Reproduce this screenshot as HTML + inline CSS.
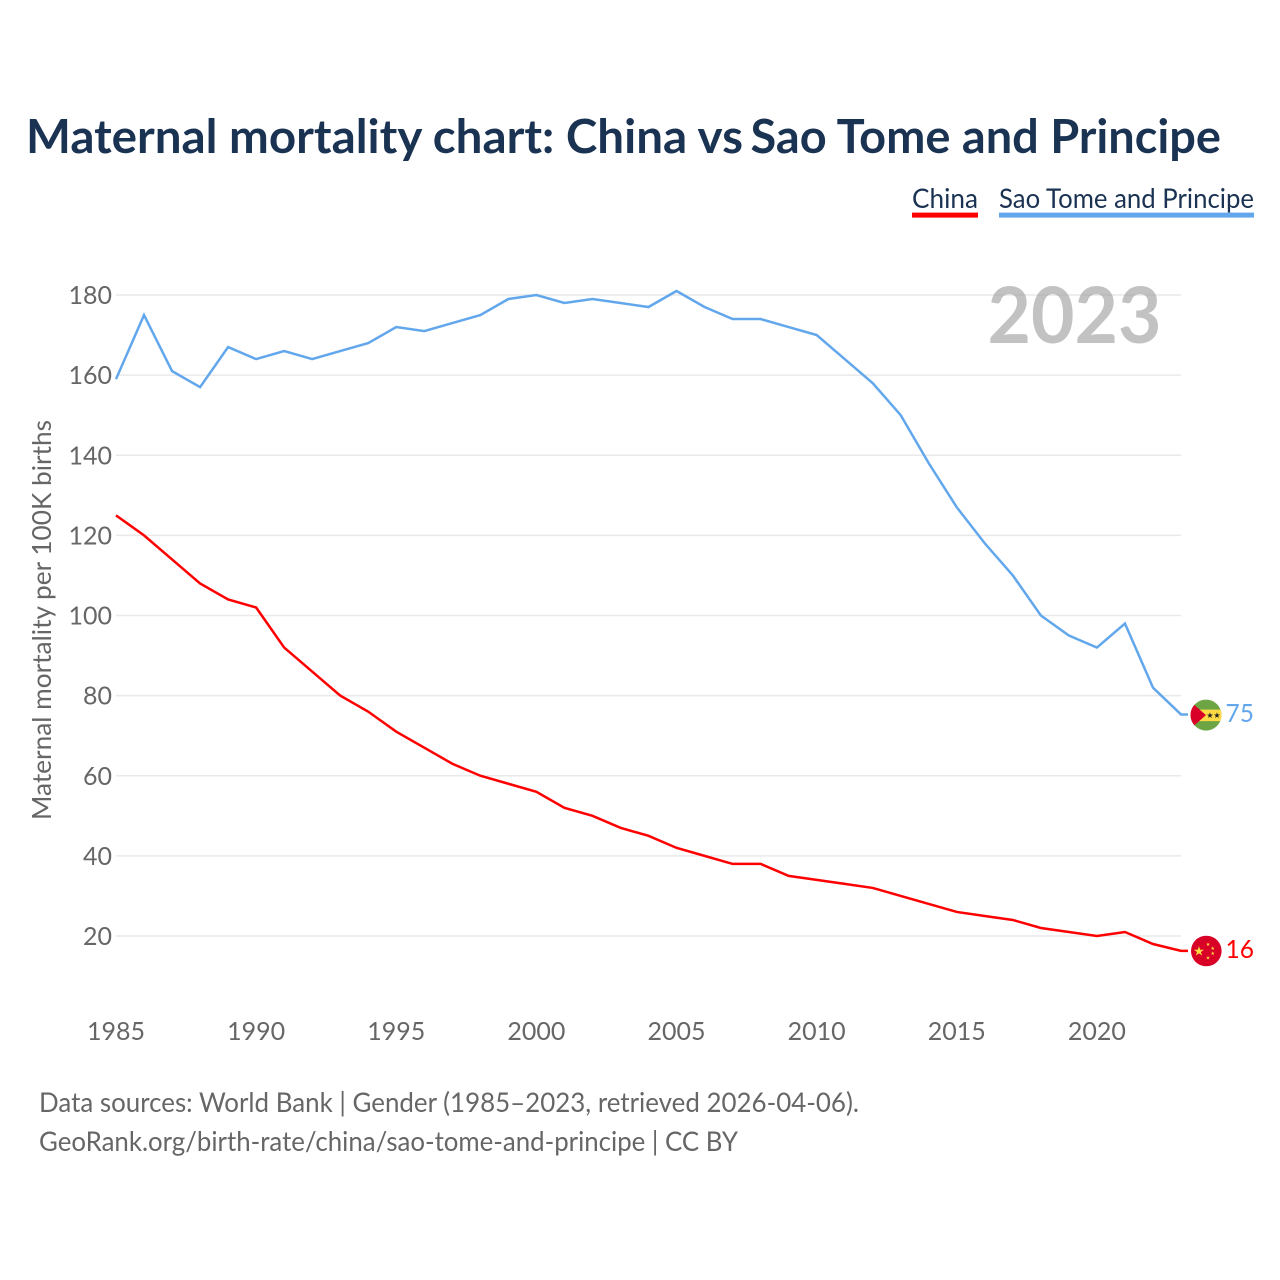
<!DOCTYPE html>
<html lang="en">
<head>
<meta charset="utf-8">
<title>Maternal mortality chart: China vs Sao Tome and Principe</title>
<style>
html,body{margin:0;padding:0;background:#fff;width:1280px;height:1280px;overflow:hidden}
svg{display:block}
text{font-family:"Lato","Carlito","Liberation Sans",sans-serif}
</style>
</head>
<body>
<svg id="chart" xmlns="http://www.w3.org/2000/svg" width="1280" height="1280" viewBox="0 0 1280 1280">
  <rect x="0" y="0" width="1280" height="1280" fill="#ffffff"/>
  <text y="153" font-size="47" font-weight="700" fill="#1a3353"><tspan x="26" textLength="717" lengthAdjust="spacingAndGlyphs">Maternal mortality chart: China vs</tspan> <tspan x="750.5" textLength="470.5" lengthAdjust="spacingAndGlyphs">Sao Tome and Principe</tspan></text>
  <g>
    <text x="912" y="208" font-size="27" fill="#1a3353" textLength="66" lengthAdjust="spacingAndGlyphs">China</text>
    <rect x="912" y="212.6" width="66" height="5" fill="#ff0000"/>
  </g>
  <g>
    <text x="999" y="208" font-size="27" fill="#1a3353" textLength="255" lengthAdjust="spacingAndGlyphs">Sao Tome and Principe</text>
    <rect x="999" y="212.6" width="255" height="5" fill="#62a7ec"/>
  </g>
  <g id="grid"></g>
  <g id="yticks"></g>
  <g id="xticks"></g>
  <text transform="translate(51,820) rotate(-90)" x="0" y="0" font-size="26" fill="#666666" textLength="400" lengthAdjust="spacingAndGlyphs">Maternal mortality per 100K births</text>
  <text x="1161.5" y="343" font-size="78" font-weight="700" fill="#999999" fill-opacity="0.6" text-anchor="end" textLength="174" lengthAdjust="spacingAndGlyphs">2023</text>
  <g id="series"></g>
  <defs>
    <clipPath id="clip-st"><circle cx="1206" cy="715" r="15.5"/></clipPath>
    <clipPath id="clip-cn"><circle cx="1206.3" cy="951" r="15.3"/></clipPath>
  </defs>
  <g id="flag-st">
    <g clip-path="url(#clip-st)">
      <rect x="1190" y="699" width="32" height="32" fill="#6da544"/>
      <rect x="1190" y="709.5" width="32" height="11.5" fill="#ffda44"/>
      <polygon points="1190,701 1206,715 1190,729" fill="#d80027"/>
      <text x="1210" y="718" font-size="8" fill="#222222" text-anchor="middle">★</text>
      <text x="1217" y="718" font-size="8" fill="#222222" text-anchor="middle">★</text>
    </g>
  </g>
  <g id="flag-cn">
    <g clip-path="url(#clip-cn)">
      <rect x="1190" y="935" width="32" height="32" fill="#d80027"/>
      <text x="1199" y="955.5" font-size="13" fill="#ffda44" text-anchor="middle">★</text>
      <text x="1208" y="946" font-size="5" fill="#ffda44" text-anchor="middle">★</text>
      <text x="1212.7" y="950" font-size="5" fill="#ffda44" text-anchor="middle">★</text>
      <text x="1212.7" y="955" font-size="5" fill="#ffda44" text-anchor="middle">★</text>
      <text x="1208" y="959.7" font-size="5" fill="#ffda44" text-anchor="middle">★</text>
    </g>
  </g>
  <text id="end-st" x="1225.5" y="722" font-size="25" fill="#62a7ec" textLength="28.5" lengthAdjust="spacingAndGlyphs">75</text>
  <text id="end-cn" x="1225.5" y="958" font-size="25" fill="#ff0000" textLength="28.5" lengthAdjust="spacingAndGlyphs">16</text>
  <text x="39" y="1112" font-size="27" fill="#666666" textLength="820" lengthAdjust="spacingAndGlyphs">Data sources: World Bank | Gender (1985–2023, retrieved 2026-04-06).</text>
  <text x="39" y="1151" font-size="27" fill="#666666" textLength="699" lengthAdjust="spacingAndGlyphs">GeoRank.org/birth-rate/china/sao-tome-and-principe | CC BY</text>
</svg>
<script>
const startYear = 1985;
const endYear = 2023;
const china = [125,120,114,108,104,102,92,86,80,76,71,67,63,60,58,56,52,50,47,45,42,40,38,38,35,34,33,32,30,28,26,25,24,22,21,20,21,18,16.3];
const saoTome = [159,175,161,157,167,164,166,164,166,168,172,171,173,175,179,180,178,179,178,177,181,177,174,174,172,170,164,158,150,138,127,118,110,100,95,92,98,82,75.3];
const yTicks = [20,40,60,80,100,120,140,160,180];
const xTicks = [1985,1990,1995,2000,2005,2010,2015,2020];

const NS = 'http://www.w3.org/2000/svg';
function xScale(year){ return 116 + (year - 1985) * (1181 - 116) / (2023 - 1985); }
function yScale(v){ return 936 + (v - 20) * (295 - 936) / (180 - 20); }

const gridG = document.getElementById('grid');
const yG = document.getElementById('yticks');
const xG = document.getElementById('xticks');
const seriesG = document.getElementById('series');

yTicks.forEach(function(t){
  const line = document.createElementNS(NS, 'line');
  
  
  line.setAttribute('x1', 116);
  line.setAttribute('x2', 1181);
  line.setAttribute('y1', yScale(t));
  line.setAttribute('y2', yScale(t));
  line.setAttribute('stroke', '#e9e9e9');
  line.setAttribute('stroke-width', '1.5');
  gridG.appendChild(line);
  const label = document.createElementNS(NS, 'text');
  
  
  label.setAttribute('x', 112);
  label.setAttribute('y', yScale(t) + 9);
  label.setAttribute('text-anchor', 'end');
  label.setAttribute('font-size', '25');
  label.setAttribute('fill', '#666666');
  label.textContent = t;
  yG.appendChild(label);
});

xTicks.forEach(function(t){
  const label = document.createElementNS(NS, 'text');
  
  
  label.setAttribute('x', xScale(t));
  label.setAttribute('y', 1040);
  label.setAttribute('text-anchor', 'middle');
  label.setAttribute('font-size', '25');
  label.setAttribute('fill', '#666666');
  label.textContent = t;
  xG.appendChild(label);
});

function linePoints(values){
  const pts = values.map(function(v, i){
    return xScale(startYear + i).toFixed(2) + ',' + yScale(v).toFixed(2);
  });
  const last = values[values.length - 1];
  pts.push((xScale(endYear) + 7).toFixed(2) + ',' + yScale(last).toFixed(2));
  return pts.join(' ');
}

const saoLine = document.createElementNS(NS, 'polyline');


saoLine.setAttribute('points', linePoints(saoTome));
saoLine.setAttribute('fill', 'none');
saoLine.setAttribute('stroke', '#62a7ec');
saoLine.setAttribute('stroke-width', '2.5');
seriesG.appendChild(saoLine);

const chinaLine = document.createElementNS(NS, 'polyline');


chinaLine.setAttribute('points', linePoints(china));
chinaLine.setAttribute('fill', 'none');
chinaLine.setAttribute('stroke', '#ff0000');
chinaLine.setAttribute('stroke-width', '2.5');
seriesG.appendChild(chinaLine);

document.getElementById('flag-st').setAttribute('transform', 'translate(0,' + (yScale(saoTome[saoTome.length - 1]) - 714.35).toFixed(2) + ')');
document.getElementById('flag-cn').setAttribute('transform', 'translate(0,' + (yScale(china[china.length - 1]) - 950.82).toFixed(2) + ')');
document.getElementById('end-st').setAttribute('y', (yScale(saoTome[saoTome.length - 1]) + 7.65).toFixed(2));
document.getElementById('end-cn').setAttribute('y', (yScale(china[china.length - 1]) + 7.18).toFixed(2));
document.getElementById('end-st').textContent = Math.round(saoTome[saoTome.length - 1]);
document.getElementById('end-cn').textContent = Math.round(china[china.length - 1]);
</script>
</body>
</html>
